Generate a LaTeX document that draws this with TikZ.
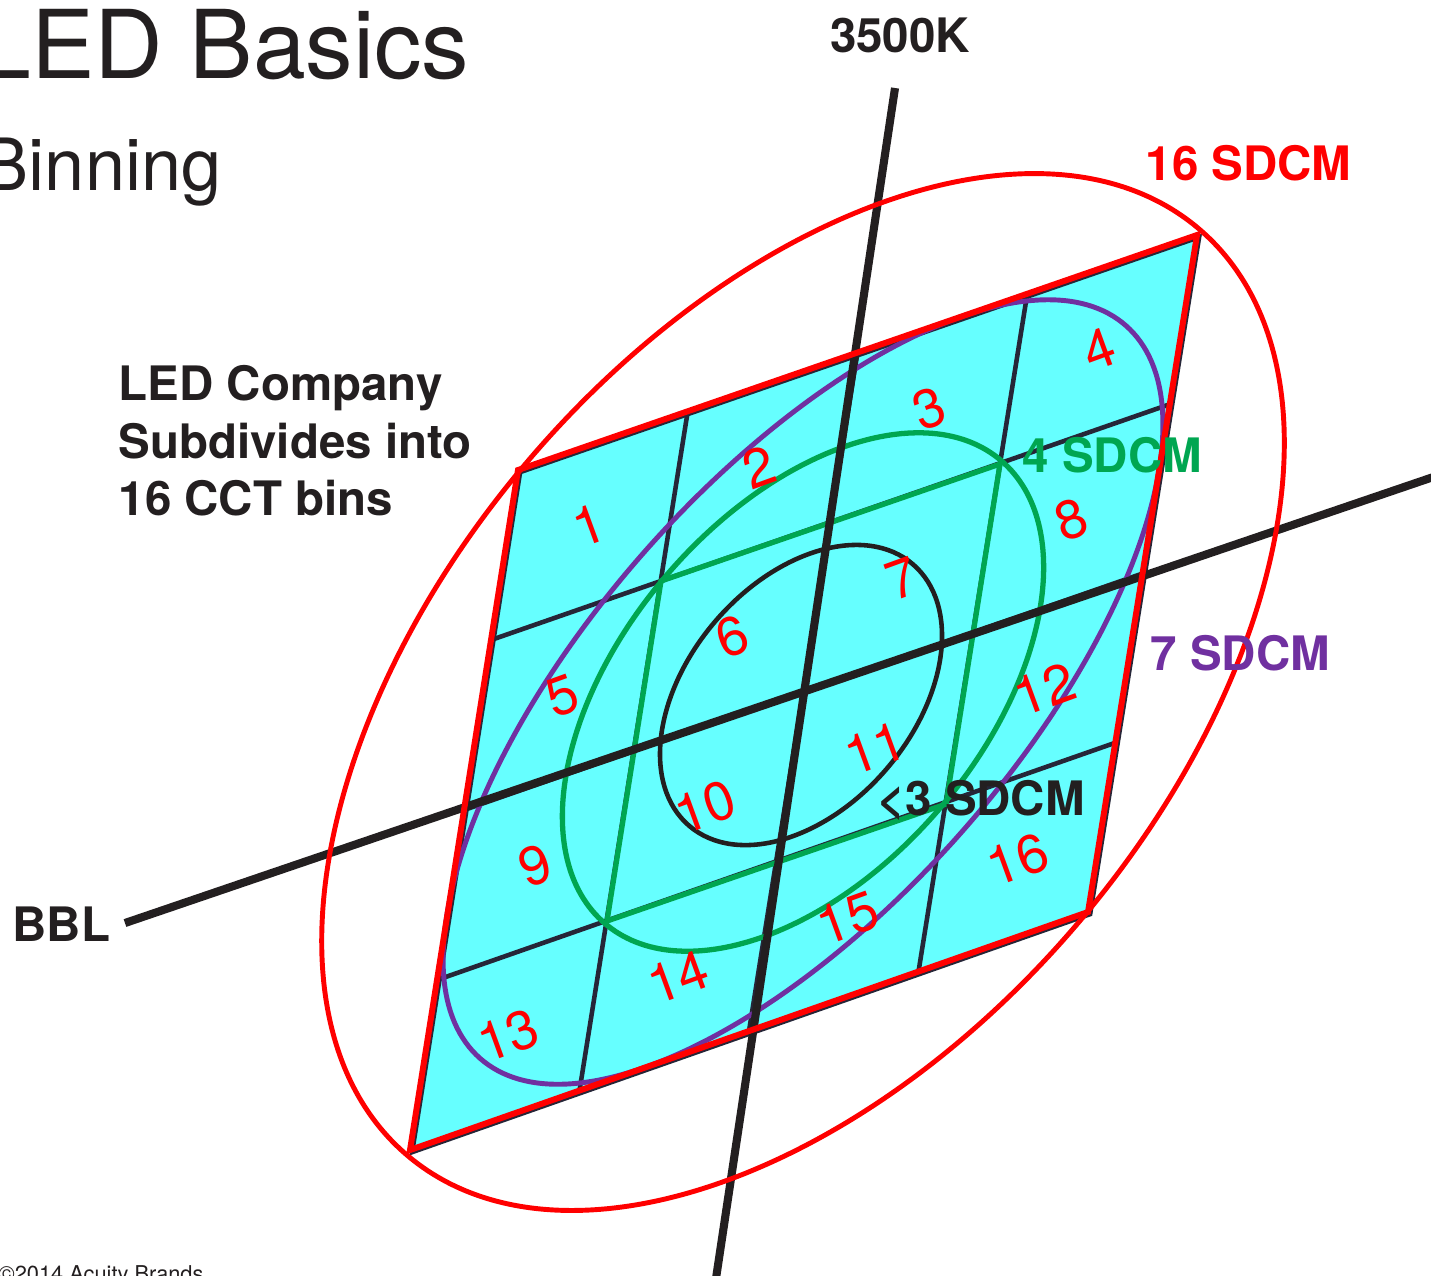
\documentclass[tikz,border=0pt]{standalone}
\usepackage{fontspec}
\setmainfont{TeX Gyre Heros}
\usetikzlibrary{calc}
\definecolor{cellcyan}{RGB}{102,255,255}
\definecolor{gridnavy}{RGB}{38,38,56}
\definecolor{inkblack}{RGB}{35,31,32}
\definecolor{sdcmgreen}{RGB}{0,166,81}
\definecolor{sdcmpurple}{RGB}{112,48,160}

\begin{document}
\begin{tikzpicture}[x=0.01cm,y=-0.01cm,
    gridline/.style={draw=gridnavy,line width=1.3pt},
    axisline/.style={draw=inkblack,line width=2.3pt},
    binedge/.style={draw=red,line width=1.7pt},
    binnum/.style={text=red,font=\fontsize{15.5}{18}\selectfont,rotate=20,inner sep=0pt},
    lbl/.style={font=\fontsize{13.5}{16}\selectfont\bfseries,text=inkblack,inner sep=0pt,anchor=base west}]
  \useasboundingbox (0,0) rectangle (1431,1275);
  \clip (0,0) rectangle (1431,1275);
  % Bin corners and centre
  \coordinate (tl) at (518,470);
  \coordinate (tr) at (1197,235);
  \coordinate (br) at (1088,912);
  \coordinate (bl) at (410,1150);
  \coordinate (ctr) at (803,692);
  % Inner 4 SDCM corners
  \coordinate (g11) at (661,581);
  \coordinate (g31) at (1000,464);
  \coordinate (g33) at (946,804);
  \coordinate (g13) at (607,921);
  % Axis ends
  \coordinate (cctTop) at (895,88);
  \coordinate (cctBot) at (715,1285);
  \coordinate (bblL) at (125,923);
  \coordinate (bblR) at (1445,473);

  % Bin area
  \fill[cellcyan] (tl) -- (tr) -- (br) -- (bl) -- cycle;
  \draw[gridline,transform canvas={shift={(0.6pt,-0.6pt)}}] (tl) -- (tr) -- (br) -- (bl) -- cycle;
  \foreach \t in {0.25,0.5,0.75} {
    \draw[gridline] ($(tl)!\t!(tr)$) -- ($(bl)!\t!(br)$);
    \draw[gridline] ($(tl)!\t!(bl)$) -- ($(tr)!\t!(br)$);
  }
  % 4 SDCM
  \draw[sdcmgreen,line width=1.5pt] (g11) -- (g31) -- (g33) -- (g13) -- cycle;
  \begin{scope}[shift={(ctr)},rotate=49.4]
    \draw[sdcmgreen,line width=1.5pt] (0,0) ellipse [x radius=3.045cm,y radius=1.795cm];
  \end{scope}
  % <3 SDCM
  \begin{scope}[shift={(801,695)},rotate=49.5]
    \draw[inkblack,line width=1.3pt] (0,0) ellipse [x radius=1.72cm,y radius=1.13cm];
  \end{scope}
  % 7 SDCM
  \begin{scope}[shift={(ctr)},rotate=48.6]
    \draw[sdcmpurple,line width=1.4pt] (0,0) ellipse [x radius=4.881cm,y radius=2.115cm];
  \end{scope}
  % 3500K and BBL
  \draw[axisline] (cctTop) -- (cctBot);
  \draw[axisline] (bblL) -- (bblR);
  % 16 SDCM
  \begin{scope}[shift={(ctr)},rotate=49.4]
    \draw[red,line width=1.4pt] (0,0) ellipse [x radius=6.09cm,y radius=3.59cm];
  \end{scope}
  \draw[binedge] (tl) -- (tr) -- (br) -- (bl) -- cycle;

  % Bin numbers
  \foreach \j in {0,...,3} {
    \foreach \i in {0,...,3} {
      \pgfmathtruncatemacro{\bin}{4*\j+\i+1}
      \node[binnum] (bin\bin) at ({518+(\i+0.5)*169.75-(\j+0.5)*27},{470-(\i+0.5)*58.75+(\j+0.5)*170}) {\bin};
    }
  }

  % Labels
  \node[lbl,anchor=base] (cct) at (900,52) {3500K};
  \node[lbl,text=red] (red16) at (1145,180) {16 SDCM};
  \node[lbl,text=sdcmgreen] (green4) at (1022,472) {4 SDCM};
  \node[lbl,text=sdcmpurple] (purple7) at (1150,670) {7 SDCM};
  \node[lbl] (black3) at (877,815) {<3 SDCM};
  \node[lbl] (bbl) at (12,941) {BBL};
  \node[lbl] (co1) at (118,400) {LED Company};
  \node[lbl] (co2) at (118,458) {Subdivides into};
  \node[lbl] (co3) at (118,515) {16 CCT bins};
  \node[anchor=base east,inner sep=0pt,text=inkblack,font=\fontsize{27}{32}\selectfont] (title) at (470,78) {LED Basics};
  \node[anchor=base east,inner sep=0pt,text=inkblack,font=\fontsize{20.5}{24}\selectfont] (subtitle) at (222,190) {Binning};
  \node[anchor=base west,inner sep=0pt,text=inkblack,font=\fontsize{6.2}{7}\selectfont] (copy) at (-2,1281) {©2014 Acuity Brands};
\end{tikzpicture}
\end{document}
